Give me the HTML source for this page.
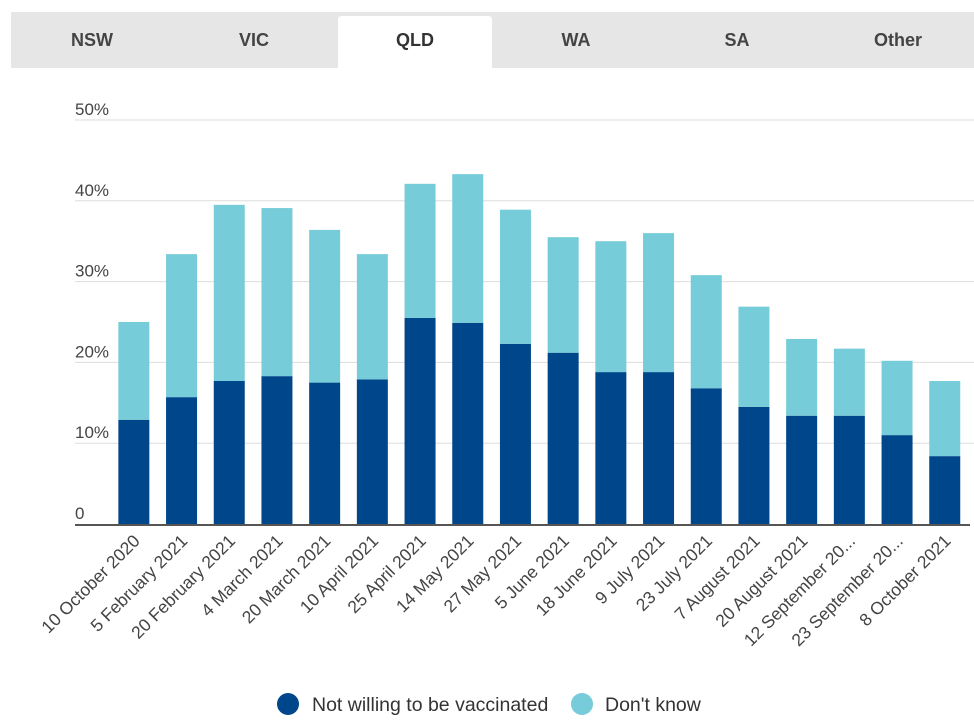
<!DOCTYPE html>
<html><head><meta charset="utf-8"><style>
body{margin:0;background:#fff;font-family:"Liberation Sans",sans-serif;}
svg{display:block}
</style></head><body>
<svg id="c" width="974" height="726">
<g>
<rect x="11" y="12" width="963" height="56" fill="#e6e6e6"/>
<path d="M338 68 V20 Q338 16 342 16 H488 Q492 16 492 20 V68 Z" fill="#fff"/>
<text x="92" y="46" text-anchor="middle" font-size="18" font-weight="bold" fill="#444">NSW</text>
<text x="254" y="46" text-anchor="middle" font-size="18" font-weight="bold" fill="#444">VIC</text>
<text x="415" y="46" text-anchor="middle" font-size="18" font-weight="bold" fill="#333">QLD</text>
<text x="576" y="46" text-anchor="middle" font-size="18" font-weight="bold" fill="#444">WA</text>
<text x="737" y="46" text-anchor="middle" font-size="18" font-weight="bold" fill="#444">SA</text>
<text x="898" y="46" text-anchor="middle" font-size="18" font-weight="bold" fill="#444">Other</text>
</g>
<g id="plot"></g>
<g>
<circle cx="288" cy="704" r="11" fill="#00468b"/>
<text x="312" y="711" font-size="19.5" fill="#333">Not willing to be vaccinated</text>
<circle cx="582" cy="704" r="11" fill="#76ccd8"/>
<text x="605" y="711" font-size="19.5" fill="#333">Don't know</text>
</g>
</svg>
<script>
const categories=["10 October 2020","5 February 2021","20 February 2021","4 March 2021","20 March 2021","10 April 2021","25 April 2021","14 May 2021","27 May 2021","5 June 2021","18 June 2021","9 July 2021","23 July 2021","7 August 2021","20 August 2021","12 September 20...","23 September 20...","8 October 2021"];
const notWilling=[12.9,15.7,17.7,18.3,17.5,17.9,25.5,24.9,22.3,21.2,18.8,18.8,16.8,14.5,13.4,13.4,11.0,8.4];
const total=[25.0,33.4,39.5,39.1,36.4,33.4,42.1,43.3,38.9,35.5,35.0,36.0,30.8,26.9,22.9,21.7,20.2,17.7];
const dontKnow=total.map((t,i)=>+(t-notWilling[i]).toFixed(1));
const ticks=[0,10,20,30,40,50];
const tickLabels=["0","10%","20%","30%","40%","50%"];
const NS="http://www.w3.org/2000/svg";
const g=document.getElementById('plot');
const y0=524,yTop=120,vMax=50;
const y=v=>y0-(v/vMax)*(y0-yTop);
const x0=110,step=47.7,bw=31;
const xc=i=>x0+step*(i+0.5);
function mk(t,a){const e=document.createElementNS(NS,t);for(const k in a)e.setAttribute(k,a[k]);g.appendChild(e);return e;}
ticks.forEach((t,i)=>{
  if(t>0){const l=mk('line',{x1:75,x2:974,y1:y(t),y2:y(t),stroke:'#ddd','stroke-width':1});
  
  }
  const tx=mk('text',{x:75,y:y(t)-5,'font-size':17,fill:'#444'});tx.textContent=tickLabels[i];
  
  
});
categories.forEach((c,i)=>{
  const xx=xc(i)-bw/2;
  const b1=mk('rect',{x:xx,y:y(notWilling[i]),width:bw,height:y0-y(notWilling[i]),fill:'#00468b'});
  
  
  const b2=mk('rect',{x:xx,y:y(notWilling[i]+dontKnow[i]),width:bw,height:y(notWilling[i])-y(notWilling[i]+dontKnow[i]),fill:'#76ccd8'});
  
  
  const tx=mk('text',{x:xc(i)+7,y:542,'font-size':17.5,fill:'#444','text-anchor':'end',transform:`rotate(-45 ${xc(i)+7} 542)`});
  tx.textContent=c;
  
  
});
const ax=mk('line',{x1:75,x2:970,y1:y0+1,y2:y0+1,stroke:'#555','stroke-width':2});


</script>
</body></html>
